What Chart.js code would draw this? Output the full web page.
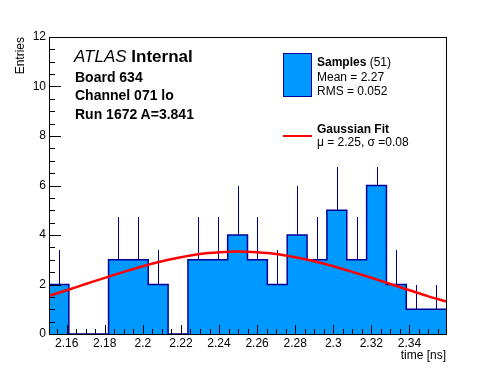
<!DOCTYPE html>
<html>
<head>
<meta charset="utf-8">
<script src="https://cdn.jsdelivr.net/npm/chart.js@4/dist/chart.umd.min.js"></script>
<style>
  body { margin: 0; background: #fff; }
  #wrap { position: relative; width: 496px; height: 372px; font-family: 'Liberation Sans', Arial, sans-serif; color: #000; }
  canvas { position: absolute; left: 0; top: 0; }
  .t { position: absolute; white-space: nowrap; line-height: 1; }
</style>
</head>
<body>
<div id="wrap">
  <canvas id="histo" width="496" height="372"></canvas>

  <!-- titulos de ejes -->
  <div class="t" style="left:14px;top:97px;width:60px;text-align:right;font-size:12px;transform:rotate(-90deg);transform-origin:0 0">Entries</div>
  <div class="t" style="left:346px;top:349px;width:100px;text-align:right;font-size:12px">time [ns]</div>

  <!-- etiqueta ATLAS -->
  <div class="t" style="left:74px;top:48px;font-size:17px"><i>ATLAS</i> <b>Internal</b></div>
  <div class="t" style="left:75px;top:70px;font-size:14px;font-weight:bold">Board 634</div>
  <div class="t" style="left:75px;top:88px;font-size:14px;font-weight:bold">Channel 071 lo</div>
  <div class="t" style="left:75px;top:107px;font-size:14px;font-weight:bold">Run 1672 A=3.841</div>

  <!-- leyenda -->
  <div style="position:absolute;left:283px;top:53px;width:29px;height:44px;box-sizing:border-box;background:#0099ff;border:1px solid #000099"></div>
  <div class="t" style="left:317px;top:56px;font-size:12px"><b>Samples</b> (51)</div>
  <div class="t" style="left:317px;top:71px;font-size:12px">Mean = 2.27</div>
  <div class="t" style="left:317px;top:85px;font-size:12px">RMS = 0.052</div>
  <div style="position:absolute;left:283px;top:135px;width:29px;height:2px;background:#ff0000"></div>
  <div class="t" style="left:317px;top:123px;font-size:12px;font-weight:bold">Gaussian Fit</div>
  <div class="t" style="left:317px;top:136px;font-size:12px">&mu; = 2.25, &sigma; =0.08</div>
</div>

<script>
// limites del histograma (20 bins)
const binLow = 2.1507;
const binHigh = 2.3592;
const counts = [2, 0, 0, 3, 3, 2, 0, 3, 3, 4, 3, 2, 4, 3, 5, 3, 6, 2, 1, 1];
// extremo superior de cada barra de error
const errTop = [3.41, 0, 0, 4.74, 4.74, 3.41, 0, 4.74, 4.74, 6.0, 4.74, 3.4, 6.0, 4.74, 6.76, 4.74, 6.76, 3.41, 2.0, 2.0];

// curva del ajuste gaussiano
const fitX = [2.1507, 2.16, 2.17, 2.18, 2.19, 2.20, 2.21, 2.22, 2.23, 2.24, 2.25,
              2.26, 2.27, 2.28, 2.29, 2.30, 2.31, 2.32, 2.33, 2.34, 2.35, 2.3592];
const fitY = [1.54, 1.77, 2.02, 2.27, 2.51, 2.74, 2.94, 3.10, 3.23, 3.30, 3.33,
              3.30, 3.23, 3.10, 2.94, 2.74, 2.51, 2.27, 2.02, 1.77, 1.52, 1.32];

const xTicks = [2.16, 2.18, 2.2, 2.22, 2.24, 2.26, 2.28, 2.3, 2.32, 2.34];
const yTicks = [0, 2, 4, 6, 8, 10, 12];

const AZUL = '#0099ff';
const AZUL_OSCURO = '#000099';

const binWidth = (binHigh - binLow) / counts.length;
const histPoints = counts.map((c, i) => ({ x: binLow + i * binWidth, y: c }));
histPoints.push({ x: binHigh, y: counts[counts.length - 1] });

// barras de error (solo la parte superior, como en ROOT)
const barrasError = {
    id: 'barrasError',
    afterDatasetDraw(chart, args) {
        if (args.index !== 1) return;
        const { ctx, scales: { x, y } } = chart;
        ctx.save();
        ctx.fillStyle = AZUL_OSCURO;
        counts.forEach((c, i) => {
            if (!c) return;
            const px = Math.round(x.getPixelForValue(binLow + (i + 0.5) * binWidth));
            const y0 = Math.round(y.getPixelForValue(c));
            const y1 = Math.round(y.getPixelForValue(errTop[i]));
            ctx.fillRect(px, y1, 1, y0 - y1);
        });
        ctx.restore();
    }
};

// marco y ticks hacia dentro
const ejesRoot = {
    id: 'ejesRoot',
    afterDraw(chart) {
        const { ctx, chartArea: a, scales: { x, y } } = chart;
        ctx.save();
        ctx.fillStyle = '#000';
        const L = Math.round(a.left), R = Math.round(a.right);
        const T = Math.round(a.top), B = Math.round(a.bottom);
        // marco
        ctx.fillRect(L, T, R - L + 1, 1);
        ctx.fillRect(L, B, R - L + 1, 1);
        ctx.fillRect(L, T, 1, B - T + 1);
        ctx.fillRect(R, T, 1, B - T + 1);

        // ticks eje x (mayores cada 0.02, menores cada 0.005)
        for (let k = 431; k * 0.005 <= binHigh + 1e-9; k++) {
            const px = Math.round(x.getPixelForValue(k * 0.005));
            const len = (k % 4 === 0) ? 9 : 5;
            ctx.fillRect(px, B - len, 1, len);
        }
        // ticks eje y (mayores cada 2, menores cada 0.5)
        for (let k = 0; k <= 24; k++) {
            const py = Math.round(y.getPixelForValue(k * 0.5));
            const len = (k % 4 === 0) ? 12 : 6;
            ctx.fillRect(L, py, len, 1);
        }
        ctx.restore();
    }
};

Chart.defaults.font.family = "'Liberation Sans', Arial, sans-serif";
Chart.defaults.font.size = 12;
Chart.defaults.color = '#000';

new Chart(document.getElementById('histo'), {
    type: 'line',
    data: {
        datasets: [
            {
                label: 'Gaussian Fit',
                data: fitX.map((v, i) => ({ x: v, y: fitY[i] })),
                borderColor: '#ff0000',
                borderWidth: 2.5,
                pointRadius: 0,
                cubicInterpolationMode: 'monotone',
                fill: false
            },
            {
                label: 'Samples',
                data: histPoints,
                stepped: 'before',
                borderColor: AZUL_OSCURO,
                borderWidth: 1.5,
                backgroundColor: AZUL,
                fill: 'origin',
                pointRadius: 0
            }
        ]
    },
    options: {
        responsive: false,
        animation: false,
        layout: { padding: { left: 0, top: 37, right: 50, bottom: 0 } },
        plugins: {
            legend: { display: false },
            tooltip: { enabled: false }
        },
        scales: {
            x: {
                type: 'linear',
                min: binLow,
                max: binHigh,
                bounds: 'data',
                grid: { display: false, drawTicks: false },
                border: { display: false },
                ticks: {
                    padding: 2,
                    autoSkip: false,
                    maxRotation: 0,
                    callback: v => String(+v.toFixed(2))
                },
                afterBuildTicks: s => { s.ticks = xTicks.map(v => ({ value: v })); },
                afterFit: s => { s.height = 38; }
            },
            y: {
                min: 0,
                max: 12,
                grid: { display: false, drawTicks: false },
                border: { display: false },
                ticks: { padding: 3 },
                afterBuildTicks: s => { s.ticks = yTicks.map(v => ({ value: v })); },
                afterFit: s => { s.width = 49; }
            }
        }
    },
    plugins: [barrasError, ejesRoot]
});
</script>
</body>
</html>
